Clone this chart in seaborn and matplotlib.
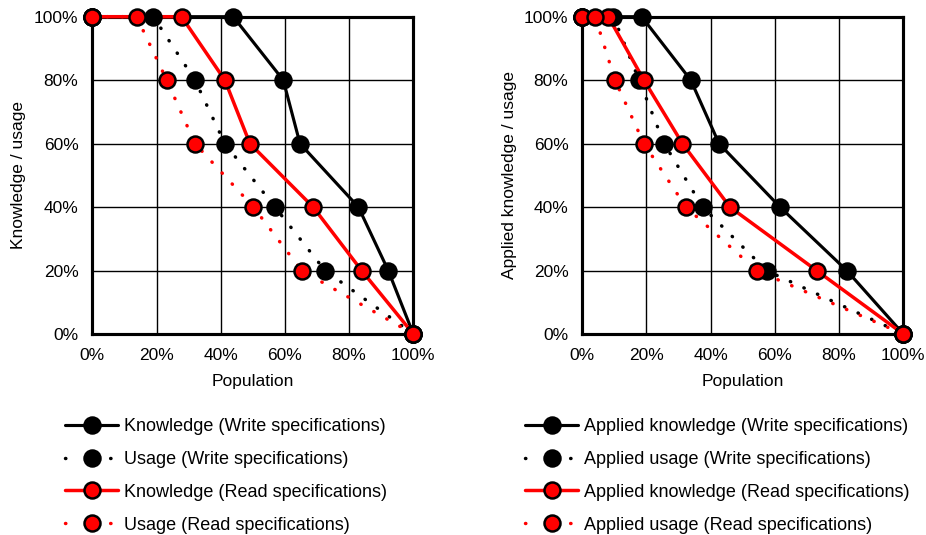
import numpy as np
import pandas as pd
import matplotlib
matplotlib.use("Agg")
import matplotlib.pyplot as plt
import seaborn as sns
from matplotlib.lines import Line2D
from matplotlib.ticker import PercentFormatter

# ---- data ----
levels = [1.0, 1.0, 0.8, 0.6, 0.4, 0.2, 0.0]

left_names = ["Knowledge (Write specifications)", "Usage (Write specifications)",
              "Knowledge (Read specifications)", "Usage (Read specifications)"]
knowledge_write = [0.0, 0.439, 0.595, 0.647, 0.829, 0.922, 1.0]
usage_write = [0.0, 0.190, 0.320, 0.413, 0.569, 0.725, 1.0]
knowledge_read = [0.0, 0.278, 0.413, 0.491, 0.688, 0.839, 1.0]
usage_read = [0.0, 0.138, 0.232, 0.320, 0.502, 0.652, 1.0]

right_names = ["Applied knowledge (Write specifications)", "Applied usage (Write specifications)",
               "Applied knowledge (Read specifications)", "Applied usage (Read specifications)"]
applied_knowledge_write = [0.0, 0.185, 0.338, 0.426, 0.616, 0.824, 1.0]
applied_usage_write = [0.0, 0.097, 0.177, 0.255, 0.375, 0.574, 1.0]
applied_knowledge_read = [0.0, 0.081, 0.192, 0.312, 0.460, 0.730, 1.0]
applied_usage_read = [0.0, 0.040, 0.102, 0.192, 0.323, 0.543, 1.0]

tick_values = [0.0, 0.2, 0.4, 0.6, 0.8, 1.0]

# ---- style ----
sns.set_style("white")
plt.rcParams['font.family'] = ['Liberation Sans', 'DejaVu Sans']
plt.rcParams['font.size'] = 12.5

DOT = (0, (0.1, 4.2))
LEG_DOT = (0, (0.1, 12.9))
series_styles = [
    dict(color="black", ls="-", lw=2.25, mfc="black", leg_ls="-"),
    dict(color="black", ls=DOT, lw=2.5, mfc="black", leg_ls=LEG_DOT),
    dict(color="red", ls="-", lw=2.5, mfc="red", leg_ls="-"),
    dict(color="red", ls=DOT, lw=2.5, mfc="red", leg_ls=LEG_DOT),
]
MS = 11.5
MEW = 1.8
TICK_FS = 12.5
LEG_FS = 13

W, H = 926, 535
fig = plt.figure(figsize=(W / 100, H / 100), dpi=100)


def px_axes(l, t, r, b):
    return fig.add_axes([l / W, 1 - b / H, (r - l) / W, (b - t) / H])


def make_df(names, xs):
    rows = []
    for n, x in zip(names, xs):
        for xi, yi in zip(x, levels):
            rows.append({"Series": n, "Population": xi, "Level": yi})
    return pd.DataFrame(rows)


def draw_panel(ax, names, xs, ylabel, ylabelpad, legend_xy):
    df = make_df(names, xs)
    # lines first
    for n, st in zip(names, series_styles):
        sub = df[df.Series == n]
        sns.lineplot(data=sub, x="Population", y="Level", sort=False, estimator=None,
                     color=st["color"], linestyle=st["ls"], lw=st["lw"],
                     dash_capstyle="round", solid_capstyle="butt",
                     zorder=3, clip_on=False, ax=ax, legend=False)
    # then markers
    for i, (n, st) in enumerate(zip(names, series_styles)):
        sub = df[df.Series == n]
        sns.scatterplot(data=sub, x="Population", y="Level", s=MS ** 2,
                        color=st["mfc"], edgecolor="black", linewidth=MEW,
                        zorder=4 + i, clip_on=False, ax=ax, legend=False)
    ax.set_xlim(0, 1)
    ax.set_ylim(0, 1)
    ax.set_xticks(tick_values)
    ax.set_yticks(tick_values)
    ax.xaxis.set_major_formatter(PercentFormatter(1.0, decimals=0))
    ax.yaxis.set_major_formatter(PercentFormatter(1.0, decimals=0))
    ax.tick_params(length=0, pad=10, labelsize=TICK_FS, colors="black")
    ax.grid(True, color="black", lw=1.0)
    ax.set_axisbelow(True)
    for sp in ax.spines.values():
        sp.set_visible(True)
        sp.set_color("black")
        sp.set_linewidth(2.25)
        sp.set_zorder(2.5)
    ax.set_xlabel("Population", labelpad=8, fontsize=TICK_FS, color="black")
    ax.set_ylabel(ylabel, labelpad=ylabelpad, fontsize=TICK_FS, color="black")

    handles = []
    for st in series_styles:
        handles.append(Line2D([], [], color=st["color"], linestyle=st["leg_ls"], lw=st["lw"],
                              dash_capstyle="round", marker="o", ms=MS,
                              mfc=st["mfc"], mec="black", mew=MEW))
    leg = ax.legend(handles, names, loc="upper left",
                    bbox_to_anchor=(legend_xy[0] / W, 1 - legend_xy[1] / H),
                    bbox_transform=fig.transFigure, frameon=False, borderpad=0,
                    borderaxespad=0, handlelength=2.95, handletextpad=0.33,
                    labelspacing=0.88, fontsize=LEG_FS)
    for t in leg.get_texts():
        t.set_color("black")


ax1 = px_axes(92.3, 16.7, 413.3, 334)
ax2 = px_axes(582.3, 16.7, 903.3, 334)

draw_panel(ax1, left_names, [knowledge_write, usage_write, knowledge_read, usage_read],
           "Knowledge / usage", 6, (65, 418))
draw_panel(ax2, right_names, [applied_knowledge_write, applied_usage_write,
                              applied_knowledge_read, applied_usage_read],
           "Applied knowledge / usage", 5, (525, 418))

fig.savefig("out.png", dpi=100)
